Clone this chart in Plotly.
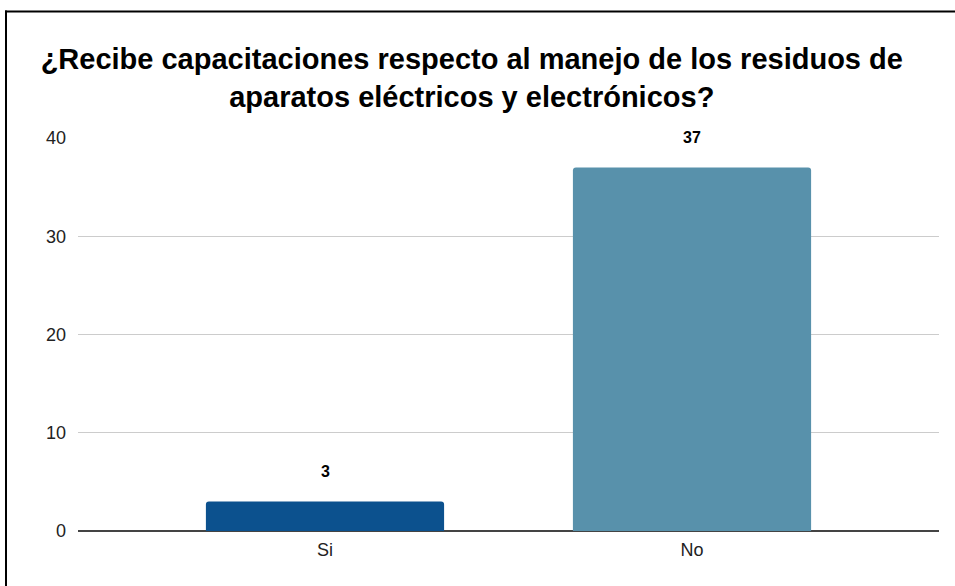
import plotly.graph_objects as go

# Survey answers and counts
categories = ["Si", "No"]
counts = [3, 37]
bar_colors = ["#0c518e", "#5891ab"]

y_ticks = [0, 10, 20, 30, 40]

title_text = ("¿Recibe capacitaciones respecto al manejo de los residuos de<br>"
              "aparatos eléctricos y electrónicos?")

FONT = "Liberation Sans, Arial, sans-serif"

W, H = 955, 586
L, R, T, B = 78, 16, 137.5, 55.3
plot_w = W - L - R
plot_h = H - T - B


def px_to_paper_x(px):
    return (px - L) / plot_w


def px_to_paper_y(py):
    return (H - B - py) / plot_h


fig = go.Figure()
fig.add_trace(go.Bar(
    x=categories,
    y=counts,
    marker=dict(color=bar_colors, line=dict(width=0)),
    width=0.649,
    hoverinfo="x+y",
))

# Value labels above each bar
for cat, val in zip(categories, counts):
    fig.add_annotation(
        x=cat, y=val, text=f"<b>{val}</b>", showarrow=False,
        yanchor="middle", yshift=30,
        font=dict(family=FONT, size=16, color="#000000"),
    )

# Outer frame (left and top edges)
frame = dict(color="#000000", width=2)
fig.add_shape(type="line", xref="paper", yref="paper",
              x0=px_to_paper_x(6), x1=px_to_paper_x(6),
              y0=px_to_paper_y(10), y1=px_to_paper_y(600), line=frame)
fig.add_shape(type="line", xref="paper", yref="paper",
              x0=px_to_paper_x(5), x1=px_to_paper_x(960),
              y0=px_to_paper_y(11), y1=px_to_paper_y(11), line=frame)

fig.update_layout(
    width=W, height=H,
    margin=dict(l=L, r=R, t=T, b=B, pad=0),
    paper_bgcolor="#ffffff",
    plot_bgcolor="#ffffff",
    barcornerradius=3,
    showlegend=False,
    font=dict(family=FONT, size=17, color="#222222"),
    title=dict(
        text=f"<b>{title_text}</b>",
        x=0.494, xanchor="center", xref="container",
        y=1 - 69 / H, yanchor="middle", yref="container",
        font=dict(family=FONT, size=29, color="#000000"),
    ),
    xaxis=dict(
        type="category",
        range=[-0.673, 1.673],
        showgrid=False,
        showline=False,
        ticks="",
        ticklabelstandoff=6,
        tickfont=dict(family=FONT, size=18, color="#222222"),
        fixedrange=True,
    ),
    yaxis=dict(
        range=[0, 40],
        tickvals=y_ticks,
        showgrid=True,
        gridcolor="#cccccc",
        gridwidth=1,
        zeroline=True,
        zerolinecolor="#444444",
        zerolinewidth=2,
        showline=False,
        ticks="",
        ticklabelstandoff=11,
        tickfont=dict(family=FONT, size=18, color="#222222"),
        fixedrange=True,
    ),
)

fig.write_html("out.html")
